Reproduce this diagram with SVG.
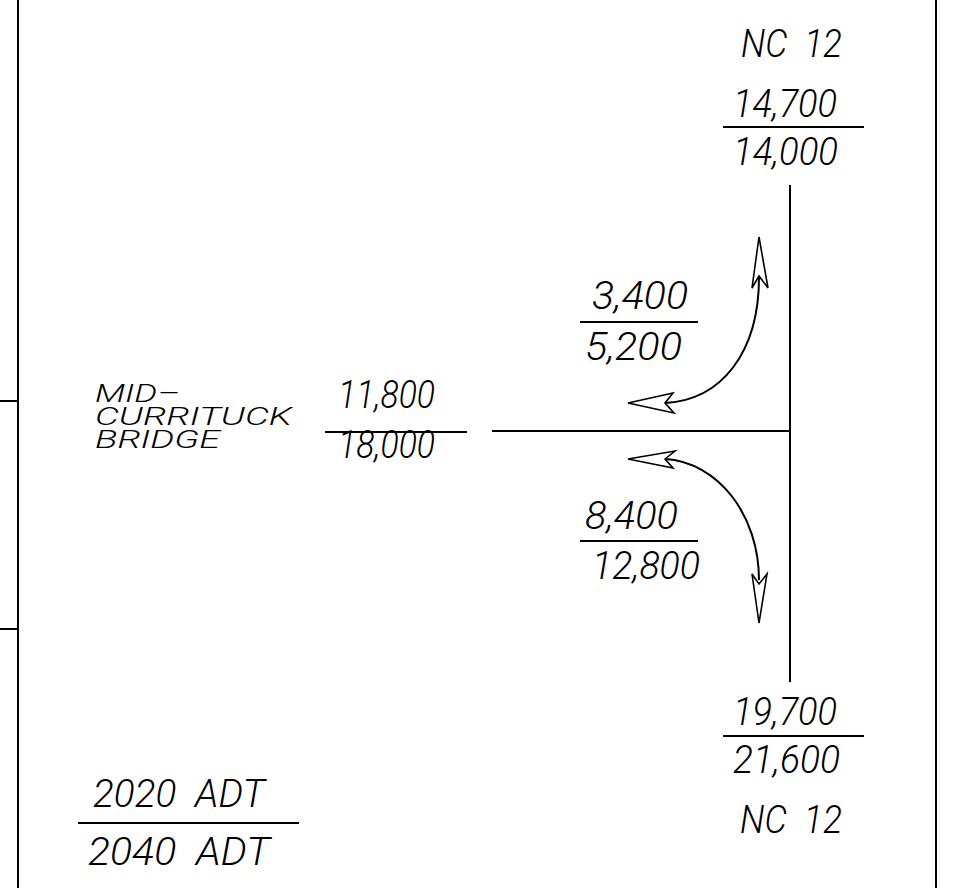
<svg xmlns="http://www.w3.org/2000/svg" width="980" height="888" viewBox="0 0 980 888">
<style>
.ln{stroke:#000;stroke-width:2;fill:none}
.ah{stroke:#000;stroke-width:1.6;fill:#fff;stroke-linejoin:miter}
.t{font-family:Roboto,"Liberation Sans",sans-serif;font-style:italic;font-weight:300;font-size:39px;fill:#000}
.s{font-size:26px}
</style>
<rect width="980" height="888" fill="#fff"/>
<g id="frame">
<line class="ln" x1="18" y1="0" x2="18" y2="888"/>
<line class="ln" x1="936" y1="0" x2="936" y2="888"/>
<line class="ln" x1="0" y1="401" x2="18" y2="401"/>
<line class="ln" x1="0" y1="629" x2="18" y2="629"/>
</g>
<g id="connectors">
<line class="ln" x1="790" y1="185" x2="790" y2="682"/>
<line class="ln" x1="492" y1="431" x2="790" y2="431"/>
<path class="ln" d="M759 277 C759 352 722 400 665 403"/>
<path class="ln" d="M665 459 C718 462 759 515 759 580"/>
</g>
<g id="arrows">
<path class="ah" d="M759 237 L768 288 L759 276 L752 288 Z"/>
<path class="ah" d="M628 403 L673 393 L665 403 L674 413 Z"/>
<path class="ah" d="M628 459 L675 451 L665 459 L673 468 Z"/>
<path class="ah" d="M759 623 L767 574 L759 584 L752 574 Z"/>
</g>
<g id="nc12-north">
<text class="t" x="741" y="57" textLength="101" lengthAdjust="spacingAndGlyphs" xml:space="preserve">NC  12</text>
<text class="t" x="733" y="117" textLength="104" lengthAdjust="spacingAndGlyphs">14,700</text>
<line class="ln" x1="723" y1="127" x2="864" y2="127"/>
<text class="t" x="733" y="165" textLength="105" lengthAdjust="spacingAndGlyphs">14,000</text>
</g>
<g id="left-turn">
<text class="t" x="592" y="309" textLength="96" lengthAdjust="spacingAndGlyphs">3,400</text>
<line class="ln" x1="580" y1="322" x2="698" y2="322"/>
<text class="t" x="585" y="360" textLength="97" lengthAdjust="spacingAndGlyphs">5,200</text>
</g>
<g id="mid-currituck">
<text class="t s" x="95" y="402" textLength="85" lengthAdjust="spacingAndGlyphs">MID–</text>
<text class="t s" x="95" y="425" textLength="197" lengthAdjust="spacingAndGlyphs">CURRITUCK</text>
<text class="t s" x="95" y="448" textLength="125" lengthAdjust="spacingAndGlyphs">BRIDGE</text>
<text class="t" x="338" y="408" textLength="97" lengthAdjust="spacingAndGlyphs">11,800</text>
<line class="ln" x1="325" y1="432" x2="467" y2="432"/>
<text class="t" x="338" y="458" textLength="97" lengthAdjust="spacingAndGlyphs">18,000</text>
</g>
<g id="right-turn">
<text class="t" x="585" y="529" textLength="93" lengthAdjust="spacingAndGlyphs">8,400</text>
<line class="ln" x1="580" y1="541" x2="698" y2="541"/>
<text class="t" x="592" y="579" textLength="108" lengthAdjust="spacingAndGlyphs">12,800</text>
</g>
<g id="nc12-south">
<text class="t" x="733" y="725" textLength="104" lengthAdjust="spacingAndGlyphs">19,700</text>
<line class="ln" x1="723" y1="736" x2="864" y2="736"/>
<text class="t" x="733" y="773" textLength="107" lengthAdjust="spacingAndGlyphs">21,600</text>
<text class="t" x="740" y="833" textLength="102" lengthAdjust="spacingAndGlyphs" xml:space="preserve">NC  12</text>
</g>
<g id="legend">
<text class="t" x="93" y="807" textLength="172" lengthAdjust="spacingAndGlyphs" xml:space="preserve">2020  ADT</text>
<line class="ln" x1="78" y1="823" x2="299" y2="823"/>
<text class="t" x="88" y="865" textLength="182" lengthAdjust="spacingAndGlyphs" xml:space="preserve">2040  ADT</text>
</g>
</svg>
